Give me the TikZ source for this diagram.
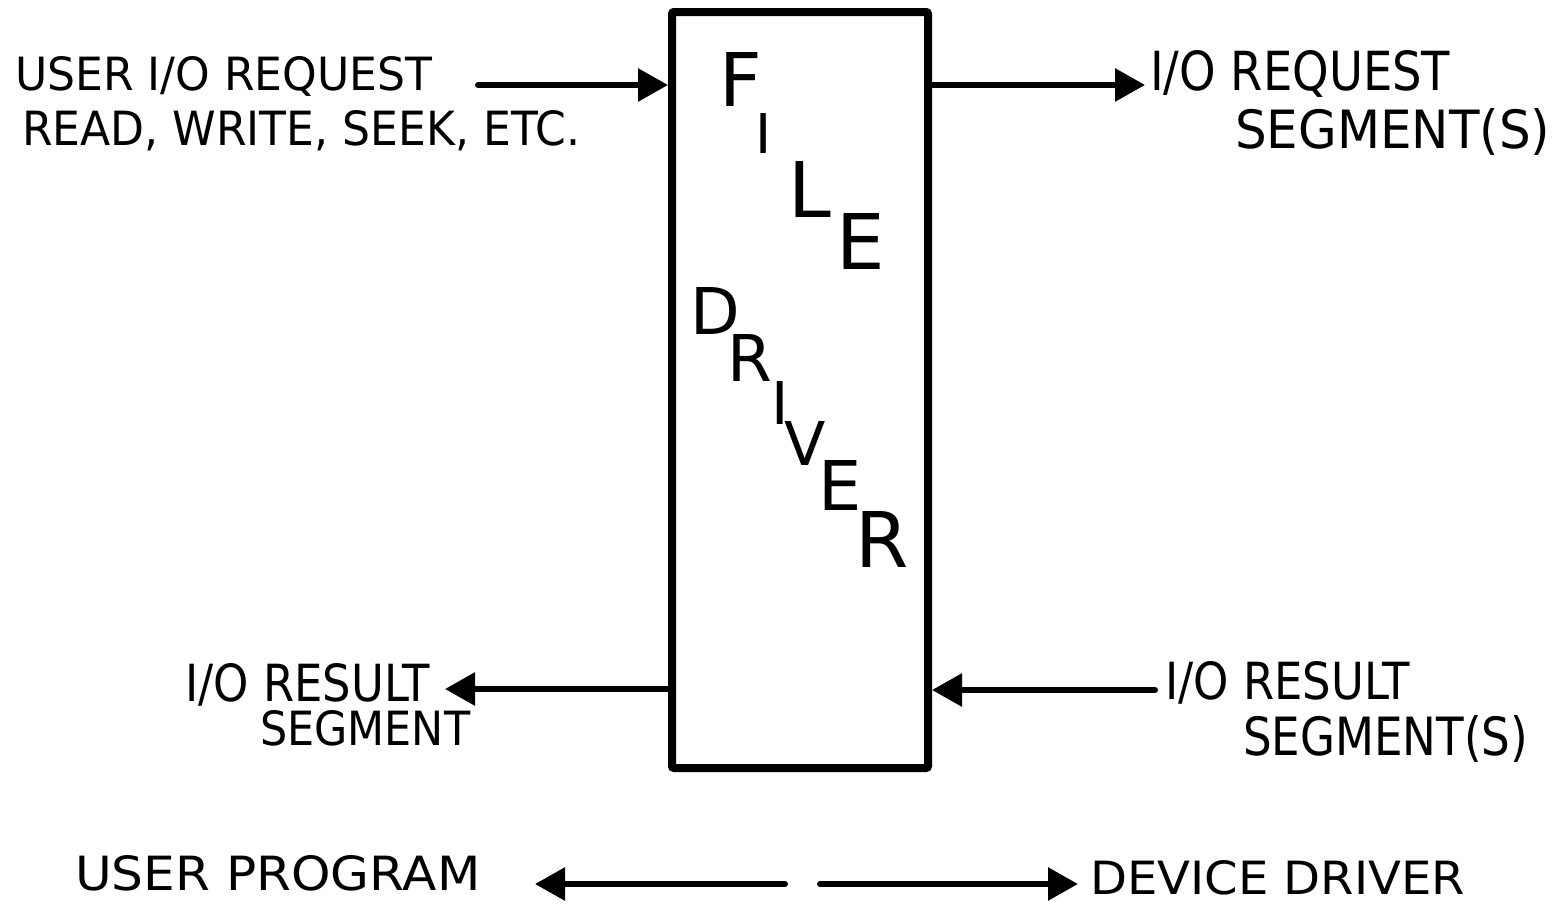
\documentclass[tikz,border=0pt]{standalone}
\usepackage{fontspec}
\setmainfont{DejaVu Sans}
\usetikzlibrary{arrows.meta}
\newcommand{\fitbox}[3]{\resizebox{#1pt}{#2pt}{#3}}
\newcommand{\lh}[2]{\resizebox{!}{#1pt}{#2}}
\begin{document}
\begin{tikzpicture}[x=1pt,y=-1pt,
  lbl/.style={anchor=base west, inner sep=0pt},
  letter/.style={inner sep=0pt, font=\fontsize{60}{60}\selectfont},
  arr/.style={line width=6pt, line cap=round, -{Triangle[length=30pt,width=32pt]}},
  boxst/.style={draw, line width=8pt, rounded corners=2pt, minimum width=256pt, minimum height=756pt, inner sep=0pt}]
\useasboundingbox (0,0) rectangle (1561,905);
\node[boxst] (fd) at (800,390) {};
% letters
\node[letter] (l1) at (741,79) {\lh{54}{F}};
\node[letter] (l2) at (764,133) {\lh{40}{I}};
\node[letter] (l3) at (810,189) {\lh{56}{L}};
\node[letter] (l4) at (861,241) {\lh{56}{E}};
\node[letter] (l5) at (715,311) {\lh{47}{D}};
\node[letter] (l6) at (750,358) {\lh{47}{R}};
\node[letter] (l7) at (780,403) {\lh{43}{I}};
\node[letter] (l8) at (805,443) {\lh{44}{V}};
\node[letter] (l9) at (840,485) {\lh{50}{E}};
\node[letter] (l10) at (882,539) {\lh{56}{R}};
% texts
\node[lbl] (t1) at (15,90) {\fitbox{417}{34}{USER I/O REQUEST}};
\node[lbl] (t2) at (22,145) {\fitbox{558}{35}{READ, WRITE, SEEK, ETC.}};
\node[lbl] (t3) at (1150,90) {\fitbox{300}{40}{I/O REQUEST}};
\node[lbl] (t4) at (1235,148) {\fitbox{315}{40}{SEGMENT(S)}};
\node[lbl] (t5) at (185,701) {\fitbox{245}{38}{I/O RESULT}};
\node[lbl] (t6) at (260,745) {\fitbox{210}{35}{SEGMENT}};
\node[lbl] (t7) at (1165,699) {\fitbox{245}{38}{I/O RESULT}};
\node[lbl] (t8) at (1243,755) {\fitbox{285}{40}{SEGMENT(S)}};
\node[lbl] (t9) at (75,890) {\fitbox{405}{35}{USER PROGRAM}};
\node[lbl] (t10) at (1090,894) {\fitbox{375}{34}{DEVICE DRIVER}};
% connectors
\coordinate (inA) at (478,85);
\draw[arr] (inA) -- (inA -| fd.west);
\coordinate (outA) at (1145,85);
\draw[arr] (outA -| fd.east) -- (outA);
\coordinate (resL) at (445,689);
\draw[arr] (resL -| fd.west) -- (resL);
\coordinate (resR) at (1155,690);
\draw[arr] (resR) -- (resR -| fd.east);
\coordinate (bl1) at (785,884);
\coordinate (bl2) at (535,884);
\draw[arr] (bl1) -- (bl2);
\coordinate (br1) at (820,884);
\coordinate (br2) at (1078,884);
\draw[arr] (br1) -- (br2);
\end{tikzpicture}
\end{document}
